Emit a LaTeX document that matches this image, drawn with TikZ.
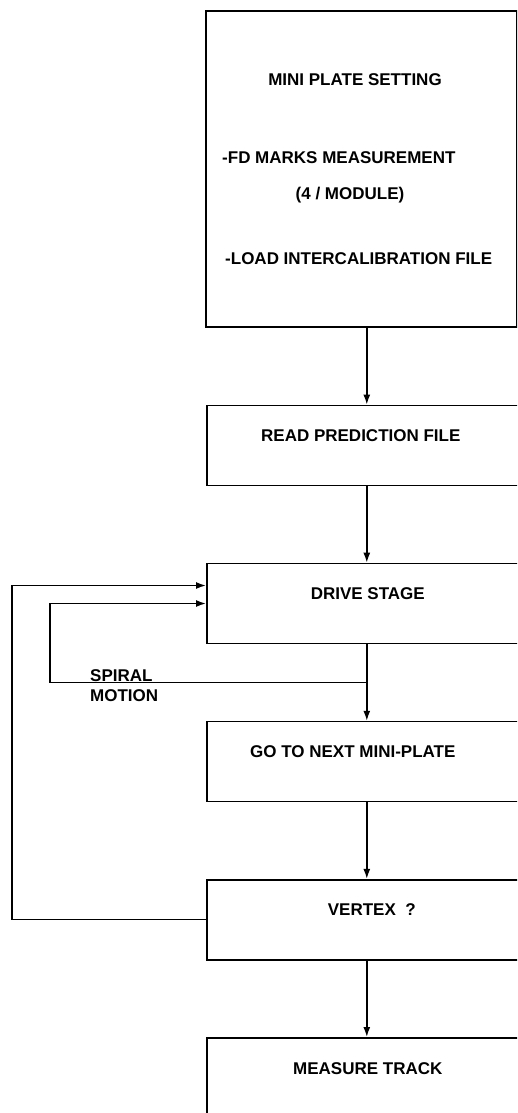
\documentclass[tikz,border=0pt]{standalone}
\usepackage{fontspec}
\setmainfont{Liberation Sans}
\usepackage{tikz}
\usetikzlibrary{arrows.meta,positioning,calc}

\begin{document}
\begin{tikzpicture}[x=1pt,y=-1pt,>={Latex[length=10pt,width=7pt]},node distance=76.5pt]
\tikzset{
 stepbox/.style={draw,line width=1.6pt,minimum width=320pt,minimum height=80pt,inner sep=0pt},
 boxtext/.style={font=\fontsize{17}{19}\selectfont\bfseries,inner sep=0pt,anchor=base},
 arrow/.style={->,line width=1.5pt}
}
\path[use as bounding box,clip] (0,0) rectangle (517,1113);
\node[stepbox,minimum width=311pt,minimum height=316pt,anchor=north west] (setting) at (205,10) {};
\node[stepbox,below=77pt of setting,xshift=5.5pt] (predict) {};
\node[stepbox,below=of predict] (drive) {};
\node[stepbox,below=of drive] (next) {};
\node[stepbox,below=of next] (vertex) {};
\node[stepbox,below=of vertex,minimum height=120pt] (measure) {};
\node[boxtext] (setting-t1) at ($(setting.north west)+(150,76)$) {MINI PLATE SETTING};
\node[boxtext,anchor=base west] (setting-t2) at ($(setting.north west)+(17,154)$) {-FD MARKS MEASUREMENT};
\node[boxtext] (setting-t3) at ($(setting.north west)+(145,189)$) {(4 / MODULE)};
\node[boxtext,anchor=base west] (setting-t4) at ($(setting.north west)+(20,254)$) {-LOAD INTERCALIBRATION FILE};
\node[boxtext] (predict-t) at ($(predict.north)+(-6,37)$) {READ PREDICTION FILE};
\node[boxtext] (drive-t) at ($(drive.north)+(1,37)$) {DRIVE STAGE};
\node[boxtext] (next-t) at ($(next.north)+(-14,37)$) {GO TO NEXT MINI-PLATE};
\node[boxtext] (vertex-t) at ($(vertex.north)+(5,37)$) {VERTEX\ \ ?};
\node[boxtext] (measure-t) at ($(measure.north)+(1,37)$) {MEASURE TRACK};
\coordinate (turn) at ($(drive.south)!0.5!(next.north)$);
\node[boxtext,anchor=base west] (spiral) at (90,681) {SPIRAL};
\node[boxtext,anchor=base west] (motion) at (90,701) {MOTION};
\draw[arrow] (setting.south -| predict.north) -- (predict.north);
\draw[arrow] (predict) -- (drive);
\draw[arrow] (drive) -- (next);
\draw[arrow] (next) -- (vertex);
\draw[arrow] (vertex) -- (measure);
\draw[arrow] (turn) -| ($(drive.west)+(-156,0)$) -- (drive.west);
\draw[arrow] (vertex.west) -- ++(-194,0) |- ($(drive.west)+(0,-18)$);
\end{tikzpicture}
\end{document}
